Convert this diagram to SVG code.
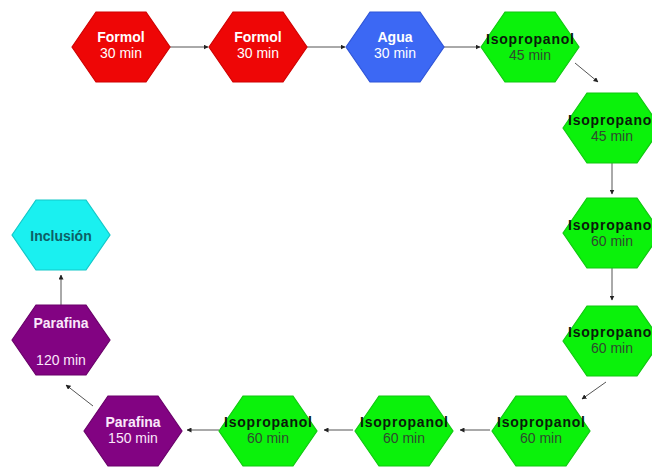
<svg xmlns="http://www.w3.org/2000/svg" width="652" height="468" viewBox="0 0 652 468">
  <style>
    .hex { stroke-width: 1.2; }
    .red { fill: #ee0606; stroke: #d00000; }
    .blue { fill: #3c68f4; stroke: #2f55d8; }
    .green { fill: #0bf20b; stroke: #10c810; }
    .purple { fill: #820382; stroke: #6a006a; }
    .cyan { fill: #1af0f0; stroke: #12c8c8; }
    text { font-family: "Liberation Sans", Arial, sans-serif; font-size: 14px; text-anchor: middle; }
    .name { font-weight: bold; }
    .light { fill: #ffffff; }
    .lightp { fill: #fbe8fb; }
    .dark { fill: #0a1a0a; }
    .dim { fill: #2e4a2e; }
    .teal { fill: #0d5f66; }
    .conn line { stroke: #555555; stroke-width: 1; fill: none; marker-end: url(#arrow); }
  </style>
  <defs>
    <polygon id="hexshape" points="-49,0 -25,-35 25,-35 49,0 25,35 -25,35"/>
    <marker id="arrow" viewBox="0 0 10 10" refX="9" refY="5" markerWidth="5" markerHeight="5" orient="auto" markerUnits="userSpaceOnUse">
      <path d="M0,0 L10,5 L0,10 z" fill="#222222"/>
    </marker>
  </defs>

  <!-- connectors -->
  <g id="connectors" class="conn">
    <line x1="170" y1="47" x2="208" y2="47"/>
    <line x1="307" y1="47" x2="345" y2="47"/>
    <line x1="444" y1="47" x2="480" y2="47"/>
    <line x1="575" y1="63" x2="598" y2="82"/>
    <line x1="612" y1="163" x2="612" y2="194"/>
    <line x1="612" y1="268" x2="612" y2="300"/>
    <line x1="606" y1="382" x2="582" y2="399"/>
    <line x1="490" y1="430" x2="460" y2="430"/>
    <line x1="353" y1="430" x2="324" y2="430"/>
    <line x1="219" y1="430" x2="187" y2="430"/>
    <line x1="93" y1="406" x2="66" y2="385"/>
    <line x1="61" y1="305" x2="61" y2="275"/>
  </g>

  <!-- top row -->
  <g id="formol-1">
    <use href="#hexshape" class="hex red" transform="translate(121,47)"/>
    <text class="name light" x="121" y="42">Formol</text>
    <text class="light" x="121" y="58">30 min</text>
  </g>
  <g id="formol-2">
    <use href="#hexshape" class="hex red" transform="translate(258,47)"/>
    <text class="name light" x="258" y="42">Formol</text>
    <text class="light" x="258" y="58">30 min</text>
  </g>
  <g id="agua">
    <use href="#hexshape" class="hex blue" transform="translate(395,47)"/>
    <text class="name light" x="395" y="42">Agua</text>
    <text class="light" x="395" y="58">30 min</text>
  </g>
  <g id="isopropanol-1">
    <use href="#hexshape" class="hex green" transform="translate(530,47)"/>
    <text class="name dark" x="530" y="44" textLength="88" lengthAdjust="spacing">Isopropanol</text>
    <text class="dim" x="530" y="60">45 min</text>
  </g>

  <!-- right column -->
  <g id="isopropanol-2">
    <use href="#hexshape" class="hex green" transform="translate(612,128)"/>
    <text class="name dark" x="612" y="125" textLength="88" lengthAdjust="spacing">Isopropanol</text>
    <text class="dim" x="612" y="141">45 min</text>
  </g>
  <g id="isopropanol-3">
    <use href="#hexshape" class="hex green" transform="translate(612,233)"/>
    <text class="name dark" x="612" y="230" textLength="88" lengthAdjust="spacing">Isopropanol</text>
    <text class="dim" x="612" y="246">60 min</text>
  </g>
  <g id="isopropanol-4">
    <use href="#hexshape" class="hex green" transform="translate(612,341)"/>
    <text class="name dark" x="612" y="337" textLength="88" lengthAdjust="spacing">Isopropanol</text>
    <text class="dim" x="612" y="353">60 min</text>
  </g>

  <!-- bottom row -->
  <g id="isopropanol-5">
    <use href="#hexshape" class="hex green" transform="translate(541,431)"/>
    <text class="name dark" x="541" y="427" textLength="88" lengthAdjust="spacing">Isopropanol</text>
    <text class="dim" x="541" y="443">60 min</text>
  </g>
  <g id="isopropanol-6">
    <use href="#hexshape" class="hex green" transform="translate(404,431)"/>
    <text class="name dark" x="404" y="427" textLength="88" lengthAdjust="spacing">Isopropanol</text>
    <text class="dim" x="404" y="443">60 min</text>
  </g>
  <g id="isopropanol-7">
    <use href="#hexshape" class="hex green" transform="translate(268,431)"/>
    <text class="name dark" x="268" y="427" textLength="88" lengthAdjust="spacing">Isopropanol</text>
    <text class="dim" x="268" y="443">60 min</text>
  </g>
  <g id="parafina-150">
    <use href="#hexshape" class="hex purple" transform="translate(133,431)"/>
    <text class="name lightp" x="133" y="427">Parafina</text>
    <text class="lightp" x="133" y="443">150 min</text>
  </g>

  <!-- left column -->
  <g id="parafina-120">
    <use href="#hexshape" class="hex purple" transform="translate(61,340)"/>
    <text class="name lightp" x="61" y="328">Parafina</text>
    <text class="lightp" x="61" y="365">120 min</text>
  </g>
  <g id="inclusion">
    <use href="#hexshape" class="hex cyan" transform="translate(61,235)"/>
    <text class="name teal" x="61" y="241">Inclusión</text>
  </g>
</svg>
